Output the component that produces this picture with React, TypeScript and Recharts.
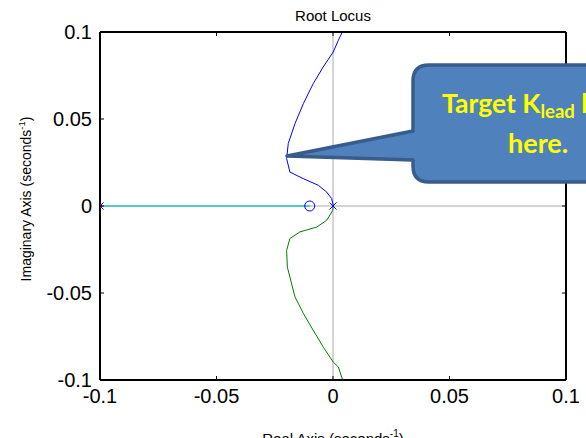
import { ComposedChart, Line, Scatter, XAxis, YAxis, ReferenceLine } from 'recharts';

const axisTicks = [-0.1, -0.05, 0, 0.05, 0.1];

// upper branch (blue), from top of the plot down to the pole at the origin
const upperRe = [0.004, 0.0023, 0.0001, -0.0042, -0.0085, -0.0127, -0.0163, -0.0192, -0.0199, -0.0185, -0.0127, -0.0063, -0.0027, -0.0006, 0.0001, 0];
const upperIm = [0.1, 0.0952, 0.0885, 0.0799, 0.0703, 0.0589, 0.0474, 0.0359, 0.0272, 0.0195, 0.0157, 0.0119, 0.008, 0.0043, 0.0004, 0];

// lower branch (green), from the origin down
const lowerRe = [0, -0.0001, -0.0027, -0.007, -0.0142, -0.0185, -0.0199, -0.0196, -0.0163, -0.0127, -0.0085, -0.0042, 0.0001, 0.0023, 0.0044];
const lowerIm = [0, -0.0025, -0.0082, -0.0121, -0.0149, -0.0187, -0.0255, -0.0351, -0.0523, -0.0618, -0.0714, -0.081, -0.0897, -0.0925, -0.1011];

// real-axis branch (cyan)
const realRe = [-0.1, -0.01];
const realIm = [0, 0];

const polesRe = [0, -0.1];
const zerosRe = [-0.01];

const zip = (xs: number[], ys: number[]) => xs.map((x, i) => ({ x, y: ys[i] }));

const upper = zip(upperRe, upperIm);
const lower = zip(lowerRe, lowerIm);
const realBranch = zip(realRe, realIm);
const poles = polesRe.map((x) => ({ x, y: 0 }));
const zeros = zerosRe.map((x) => ({ x, y: 0 }));

const font = '"Liberation Sans", Arial, sans-serif';
const calloutFont = 'Lato, "Open Sans", sans-serif';

const BottomTick = ({ x, y, payload }: any) => (
  <g>
    <line x1={x} x2={x} y1={y} y2={y - 4} stroke='#000' />
    <text x={x} y={y + 23} textAnchor='middle' fontSize={20} fontFamily={font} fill='#000'>
      {payload.value}
    </text>
  </g>
);

const TopTick = ({ x, y }: any) => <line x1={x} x2={x} y1={y} y2={y + 4} stroke='#000' />;

const LeftTick = ({ x, y, payload }: any) => (
  <g>
    <line x1={x} x2={x + 4} y1={y} y2={y} stroke='#000' />
    <text x={x - 8} y={y + 7} textAnchor='end' fontSize={20} fontFamily={font} fill='#000'>
      {payload.value}
    </text>
  </g>
);

const RightTick = ({ x, y }: any) => <line x1={x} x2={x - 4} y1={y} y2={y} stroke='#000' />;

const PoleMark = ({ cx, cy, payload }: any) => (
  <g>
    {payload.x < -0.05 && <rect x={cx - 2} y={cy - 2} width={4} height={4} fill='#e00000' />}
    <line x1={cx - 3.5} y1={cy - 3.5} x2={cx + 3.5} y2={cy + 3.5} stroke='#0000ff' />
    <line x1={cx - 3.5} y1={cy + 3.5} x2={cx + 3.5} y2={cy - 3.5} stroke='#0000ff' />
  </g>
);

const ZeroMark = ({ cx, cy }: any) => <circle cx={cx} cy={cy} r={5} fill='none' stroke='#0000ff' />;

const App = () => {
  return (
    <div style={{ position: 'absolute', left: 0, top: 0, width: 586, height: 438, overflow: 'hidden', background: '#fff' }}>
      <ComposedChart width={586} height={438} margin={{ top: 0, right: 0, bottom: 0, left: 0 }}>
        <XAxis
          dataKey='x'
          type='number'
          domain={[-0.1, 0.1]}
          ticks={axisTicks}
          allowDataOverflow
          height={58}
          tickSize={0}
          tickMargin={0}
          stroke='#000'
          strokeWidth={2}
          tick={<BottomTick />}
          interval={0}
        />
        <XAxis
          xAxisId='top'
          orientation='top'
          dataKey='x'
          type='number'
          domain={[-0.1, 0.1]}
          ticks={axisTicks}
          allowDataOverflow
          height={32}
          tickSize={0}
          tickMargin={0}
          stroke='#000'
          strokeWidth={2}
          tick={<TopTick />}
          interval={0}
        />
        <YAxis
          dataKey='y'
          type='number'
          domain={[-0.1, 0.1]}
          ticks={axisTicks}
          allowDataOverflow
          width={100}
          tickSize={0}
          tickMargin={0}
          stroke='#000'
          strokeWidth={2}
          tick={<LeftTick />}
          interval={0}
        />
        <YAxis
          yAxisId='right'
          orientation='right'
          dataKey='y'
          type='number'
          domain={[-0.1, 0.1]}
          ticks={axisTicks}
          allowDataOverflow
          width={20}
          tickSize={0}
          tickMargin={0}
          stroke='#000'
          strokeWidth={2}
          tick={<RightTick />}
          interval={0}
        />
        <ReferenceLine x={0} stroke='#aaaaaa' strokeWidth={1} />
        <ReferenceLine y={0} stroke='#aaaaaa' strokeWidth={1} />
        <Line data={realBranch} dataKey='y' type='linear' stroke='#55c8c8' strokeWidth={2} dot={false} isAnimationActive={false} />
        <Line data={upper} dataKey='y' type='linear' stroke='#0000ff' strokeWidth={1} dot={false} isAnimationActive={false} />
        <Line data={lower} dataKey='y' type='linear' stroke='#008000' strokeWidth={1} dot={false} isAnimationActive={false} />
        <Scatter data={zeros} dataKey='y' shape={<ZeroMark />} isAnimationActive={false} />
        <Scatter data={poles} dataKey='y' shape={<PoleMark />} isAnimationActive={false} />
      </ComposedChart>
      <svg width={586} height={438} style={{ position: 'absolute', left: 0, top: 0, pointerEvents: 'none' }}>
        <text x={333} y={21} textAnchor='middle' fontSize={15} fontFamily={font} fill='#000'>
          Root Locus
        </text>
        <text x={333} y={444} textAnchor='middle' fontSize={15} fontFamily={font} fill='#000'>
          Real Axis (seconds
          <tspan fontSize={10} dy={-7}>-1</tspan>
          <tspan dy={7}>)</tspan>
        </text>
        <text transform='translate(31,199) rotate(-90)' textAnchor='middle' fontSize={14} fontFamily={font} fill='#000'>
          Imaginary Axis (seconds
          <tspan fontSize={9.5} dy={-6}>-1</tspan>
          <tspan dy={6}>)</tspan>
        </text>
        <path
          d='M 429 65 H 720 V 182 H 429 Q 413 182 413 166 V 160 L 287 156 L 413 131 V 81 Q 413 65 429 65 Z'
          fill='#4f81bd'
          stroke='#385d8a'
          strokeWidth={3.5}
          strokeLinejoin='round'
        />
        <text x={442} y={113} fontSize={26.5} fontWeight='bold' fontFamily={calloutFont} fill='#ffff00'>
          Target K
          <tspan fontSize={18.5} dy={5}>lead</tspan>
          <tspan dy={-5}> lies</tspan>
        </text>
        <text x={508} y={153} fontSize={27} fontWeight='bold' fontFamily={calloutFont} fill='#ffff00'>
          here.
        </text>
      </svg>
    </div>
  );
};

export default App;
